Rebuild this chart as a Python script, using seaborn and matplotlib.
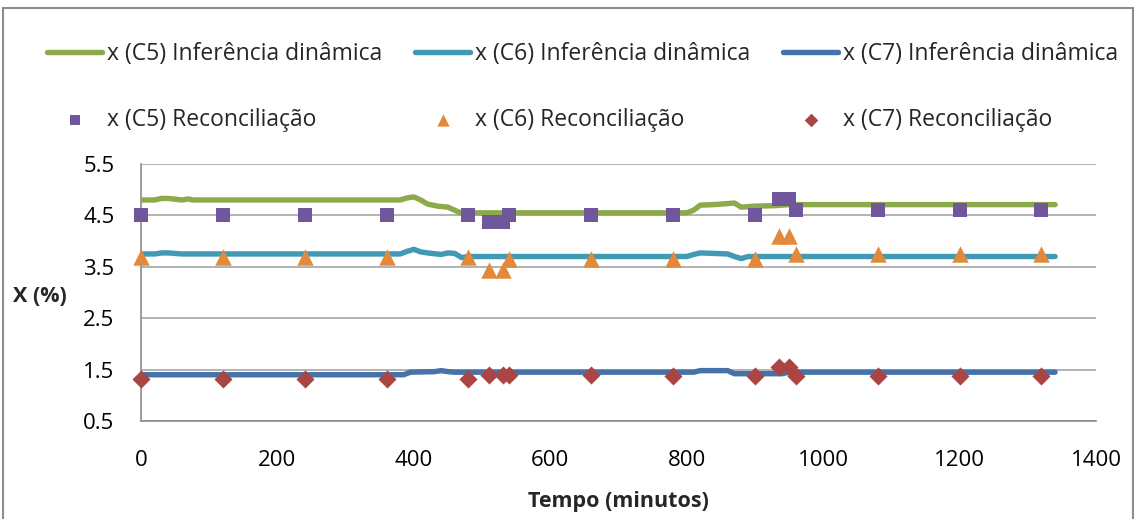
import matplotlib
matplotlib.use("Agg")
import matplotlib.pyplot as plt
from matplotlib.patches import Rectangle
import seaborn as sns
import pandas as pd

# Dynamic inference (minutes, % composition)
t_c5 = [0, 20, 30, 40, 60, 70, 75, 100, 380, 390, 400, 410, 420, 435, 450, 460, 470, 480,
        800, 810, 820, 840, 860, 870, 880, 900, 930, 950, 1340]
inf_c5 = [4.80, 4.80, 4.83, 4.83, 4.80, 4.82, 4.80, 4.80, 4.80, 4.84, 4.86, 4.80, 4.72, 4.68,
          4.66, 4.60, 4.54, 4.55, 4.55, 4.60, 4.70, 4.71, 4.73, 4.74, 4.66, 4.68, 4.69, 4.71, 4.71]

t_c6 = [0, 20, 30, 40, 60, 380, 390, 400, 410, 420, 440, 450, 460, 470, 480,
        800, 810, 820, 860, 870, 880, 890, 1340]
inf_c6 = [3.75, 3.75, 3.77, 3.77, 3.75, 3.75, 3.80, 3.84, 3.79, 3.77, 3.74, 3.77, 3.76, 3.68, 3.70,
          3.70, 3.74, 3.77, 3.75, 3.70, 3.66, 3.70, 3.70]

t_c7 = [0, 385, 395, 430, 440, 450, 460, 810, 820, 860, 870, 940, 950, 1340]
inf_c7 = [1.40, 1.40, 1.45, 1.46, 1.48, 1.46, 1.45, 1.45, 1.48, 1.48, 1.42, 1.42, 1.45, 1.45]

# Reconciliation results
t_rec = [0, 120, 240, 360, 480, 510, 530, 540, 660, 780, 900, 935, 950, 960, 1080, 1200, 1320]
rec_c5 = [4.50, 4.50, 4.50, 4.50, 4.50, 4.38, 4.38, 4.51, 4.50, 4.50, 4.50, 4.82, 4.82, 4.61, 4.61, 4.61, 4.61]
rec_c6 = [3.70, 3.70, 3.70, 3.70, 3.70, 3.43, 3.43, 3.65, 3.65, 3.65, 3.65, 4.10, 4.10, 3.75, 3.75, 3.75, 3.75]
rec_c7 = [1.31, 1.31, 1.31, 1.31, 1.31, 1.39, 1.39, 1.39, 1.39, 1.38, 1.38, 1.55, 1.55, 1.38, 1.38, 1.38, 1.38]

lbl_inf = ["x (C5) Inferência dinâmica", "x (C6) Inferência dinâmica", "x (C7) Inferência dinâmica"]
lbl_rec = ["x (C5) Reconciliação", "x (C6) Reconciliação", "x (C7) Reconciliação"]

x_ticks = [0, 200, 400, 600, 800, 1000, 1200, 1400]
y_ticks = [0.5, 1.5, 2.5, 3.5, 4.5, 5.5]

line_colors = ["#8DAA4B", "#4299B4", "#4472A9"]
mark_colors = ["#70569A", "#E2893B", "#AA4543"]
markers = ["s", "^", "D"]
mark_sizes = [95, 140, 85]

sns.set_theme(style="white")
plt.rcParams["font.family"] = ["Open Sans", "DejaVu Sans"]

W, H = 1137, 519
X0, X1, YT, YB = 141, 1096, 164, 421
fig = plt.figure(figsize=(W / 100, H / 100), dpi=100)
ax = fig.add_axes([X0 / W, 1 - YB / H, (X1 - X0) / W, (YB - YT) / H])

for t, v, c, lab in zip([t_c5, t_c6, t_c7], [inf_c5, inf_c6, inf_c7], line_colors, lbl_inf):
    df = pd.DataFrame({"t": t, "v": v})
    sns.lineplot(data=df, x="t", y="v", color=c, lw=3.9, ax=ax, sort=False,
                 estimator=None, label=lab, solid_capstyle="round", zorder=3)

for v, c, m, s, lab in zip([rec_c5, rec_c6, rec_c7], mark_colors, markers, mark_sizes, lbl_rec):
    df = pd.DataFrame({"t": t_rec, "v": v})
    sns.scatterplot(data=df, x="t", y="v", color=c, marker=m, s=s, linewidth=0,
                    ax=ax, label=lab, zorder=4, clip_on=False)

handles, labels = ax.get_legend_handles_labels()
ax.get_legend().remove()

ax.set_xlim(0, 1400)
ax.set_ylim(0.5, 5.5)
ax.set_xticks(x_ticks)
ax.set_yticks(y_ticks)
ax.set_yticklabels([f"{y:.1f}" for y in y_ticks])
ax.tick_params(axis="both", length=0, labelsize=16, colors="#000000")
ax.tick_params(axis="y", pad=19)
ax.tick_params(axis="x", pad=21)
ax.grid(axis="y", color="#A6A6A6", lw=1.2)
ax.grid(axis="x", visible=False)
for side in ["top", "right"]:
    ax.spines[side].set_visible(False)
for side in ["left", "bottom"]:
    ax.spines[side].set_color("#8C8C8C")
    ax.spines[side].set_linewidth(1.2)

h_ax = YB - YT
ax.set_xlabel("Tempo (minutos)", fontsize=15.5, fontweight="bold")
ax.xaxis.set_label_coords(0.5, (YB - 501) / h_ax)
ax.xaxis.label.set_va("center")
ax.set_ylabel("X (%)", fontsize=15.5, fontweight="bold", rotation=0)
ax.yaxis.set_label_coords((40 - X0) / (X1 - X0), (YB - 297) / h_ax)
ax.yaxis.label.set_va("center")
ax.yaxis.label.set_ha("center")

# Legend: one two-row block per component
col_x = [47, 415, 783]
for i in range(3):
    hs = [handles[i], handles[3 + i]]
    ls = [labels[i], labels[3 + i]]
    fig.legend(hs, ls, loc="upper left", bbox_to_anchor=(col_x[i] / W, 1 - 42 / H),
               frameon=False, fontsize=16.5, handlelength=2.4, handletextpad=0.22,
               borderpad=0, borderaxespad=0, labelspacing=1.84, markerscale=0.75)

fig.patches.append(Rectangle((3 / W, -0.05), 1130 / W, 1.05 - 8 / H, transform=fig.transFigure,
                             fill=False, edgecolor="#8C8C8C", lw=1.5))

fig.savefig("out.png", dpi=100)
